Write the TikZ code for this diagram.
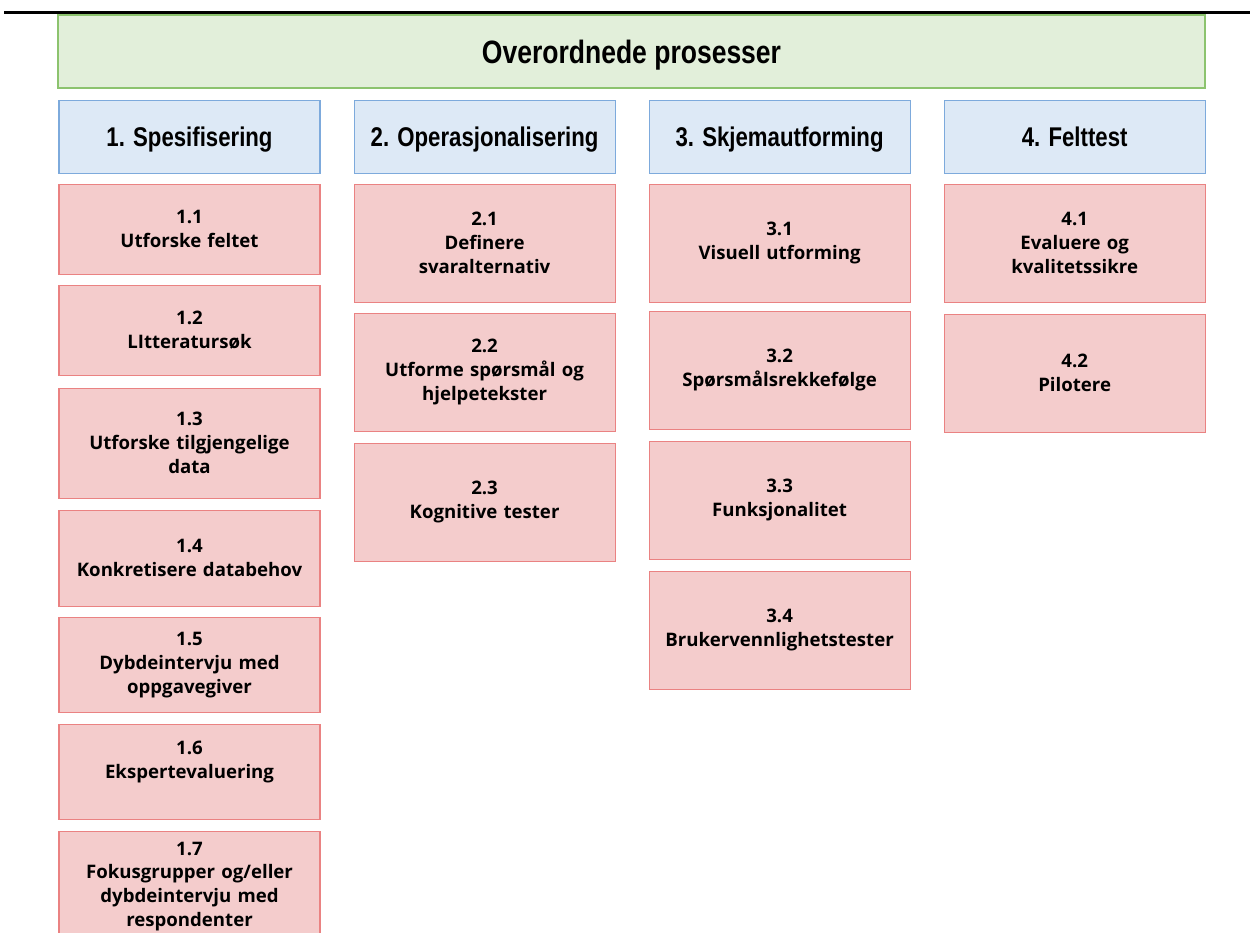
\documentclass[tikz,border=0pt]{standalone}
\usepackage{fontspec}
\setmainfont{Open Sans}
\newfontfamily\headfont[FakeStretch=0.82]{Liberation Sans}
\usetikzlibrary{positioning}
\definecolor{cGreen}{RGB}{226,239,218}
\definecolor{cGreenLine}{RGB}{140,195,110}
\definecolor{cBlue}{RGB}{221,233,246}
\definecolor{cBlueLine}{RGB}{125,170,220}
\definecolor{cRed}{RGB}{244,204,204}
\definecolor{cRedLine}{RGB}{234,130,130}
\tikzset{
  basebox/.style={rectangle, draw, align=center, inner sep=2pt,
                  line width=0.6pt},
  titlenode/.style={basebox, fill=cGreen, draw=cGreenLine,
                    minimum width=22.94cm, minimum height=1.46cm,
                    text height=0.612cm, text depth=0.15cm,
                    font=\headfont\fontsize{18.4}{20}\selectfont\bfseries},
  headnode/.style={basebox, fill=cBlue, draw=cBlueLine,
                   minimum width=5.22cm, minimum height=1.46cm,
                   text height=0.507cm, text depth=0.12cm,
                   font=\headfont\fontsize{15.4}{18}\selectfont\bfseries},
  tasknode/.style={basebox, fill=cRed, draw=cRedLine, text width=5.0cm,
                   minimum width=5.22cm, minimum height=2.36cm,
                   font=\fontsize{10.6}{13.6}\selectfont\bfseries}
}

\begin{document}
\begin{tikzpicture}[node distance=0.22cm and 0.66cm]

  \useasboundingbox (0,0) rectangle (25,-18.66);
  \clip (0,0) rectangle (25,-18.66);

  \draw[line width=0.06cm] (0.08,-0.26) -- (25,-0.26);

  \node[titlenode] (title) at (12.63,-1.03) {Overordnede prosesser};

  % -- column heads --
  \node[headnode, below right=0.22cm and 0.02cm of title.south west] (spec)
      {1. Spesifisering};
  \node[headnode, right=of spec] (oper) {2. Operasjonalisering};
  \node[headnode, right=of oper] (skjema) {3. Skjemautforming};
  \node[headnode, right=of skjema] (felt) {4. Felttest};

  % -- 1. Spesifisering --
  \node[tasknode, minimum height=1.8cm, below=0.2cm of spec] (t11)
      {1.1\\Utforske feltet};
  \node[tasknode, minimum height=1.8cm, below=0.2cm of t11] (t12)
      {1.2\\LItteratursøk};
  \node[tasknode, minimum height=2.2cm, below=0.24cm of t12] (t13)
      {1.3\\Utforske tilgjengelige\\data};
  \node[tasknode, minimum height=1.92cm, below=of t13] (t14)
      {1.4\\Konkretisere databehov};
  \node[tasknode, minimum height=1.9cm, below=0.2cm of t14] (t15)
      {1.5\\Dybdeintervju med\\oppgavegiver};
  \node[tasknode, minimum height=1.9cm, below=of t15] (t16)
      {1.6\\Ekspertevaluering\\\mbox{}};
  \node[tasknode, minimum height=2.2cm, below=of t16] (t17)
      {1.7\\Fokusgrupper og/eller\\dybdeintervju med\\respondenter};

  % -- 2. Operasjonalisering --
  \node[tasknode, below=0.2cm of oper] (t21)
      {2.1\\Definere\\svaralternativ};
  \node[tasknode, below=0.2cm of t21] (t22)
      {2.2\\Utforme spørsmål og\\hjelpetekster};
  \node[tasknode, below=of t22] (t23)
      {2.3\\Kognitive tester};

  % -- 3. Skjemautforming --
  \node[tasknode, below=0.2cm of skjema] (t31)
      {3.1\\Visuell utforming};
  \node[tasknode, below=0.16cm of t31] (t32)
      {3.2\\Spørsmålsrekkefølge};
  \node[tasknode, below=of t32] (t33)
      {3.3\\Funksjonalitet};
  \node[tasknode, below=of t33] (t34)
      {3.4\\Brukervennlighetstester};

  % -- 4. Felttest --
  \node[tasknode, below=0.2cm of felt] (t41)
      {4.1\\Evaluere og\\kvalitetssikre};
  \node[tasknode, below=of t41] (t42)
      {4.2\\Pilotere};

\end{tikzpicture}
\end{document}
